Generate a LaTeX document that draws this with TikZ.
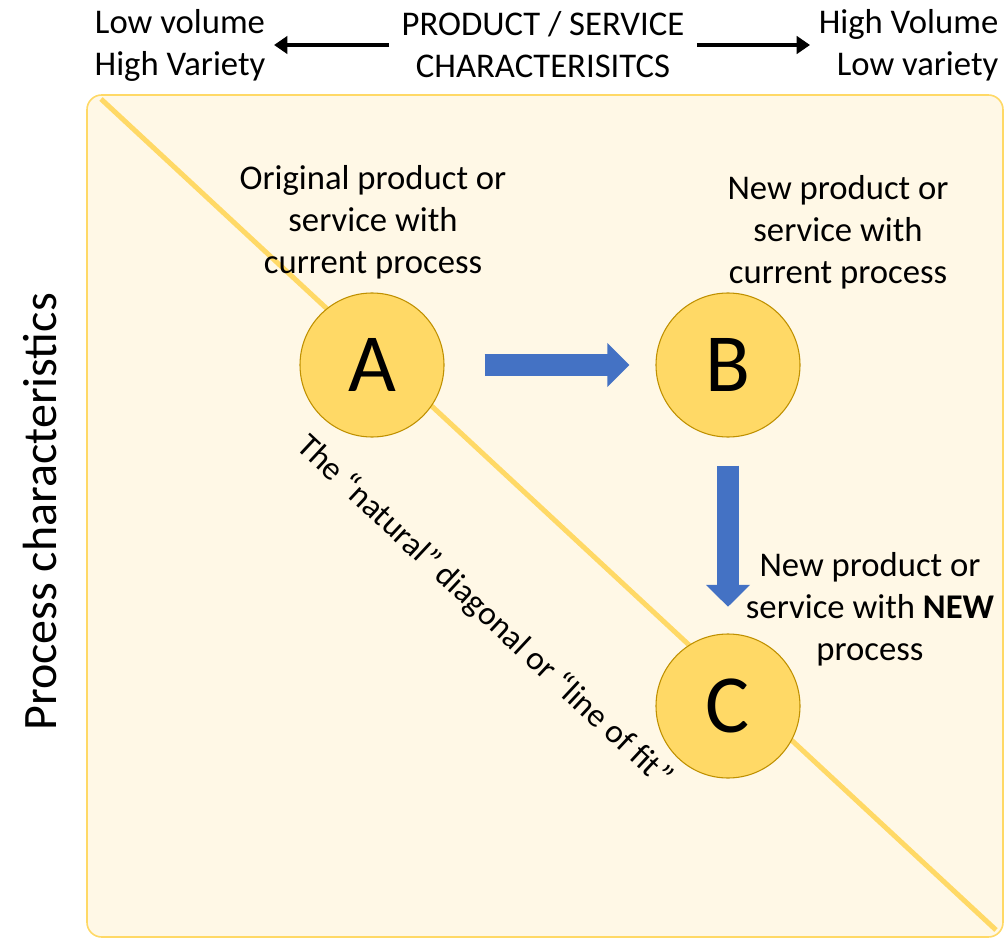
\documentclass[tikz,border=0pt]{standalone}
\usepackage{fontspec}
\setmainfont{Carlito}
\usetikzlibrary{arrows.meta}
\definecolor{boxfill}{HTML}{FFF8E6}
\definecolor{gold}{HTML}{FFD966}
\definecolor{darkgold}{HTML}{BF9000}
\definecolor{blockblue}{HTML}{4472C4}

\begin{document}
\begin{tikzpicture}[x=0.75pt,y=-0.75pt,
  lbl/.style={align=center,font=\fontsize{26}{31.5}\selectfont},
  ball/.style={circle,draw=darkgold,fill=gold,line width=0.8pt,minimum size=108pt,inner sep=0pt,font=\fontsize{62}{62}\selectfont},
  bigarrow/.style={blockblue,line width=16.5pt,-{Triangle[length=16.5pt,width=32pt]}},
  thinarrow/.style={line width=3.5pt,-{Triangle[length=10pt,width=13pt]}}]
\useasboundingbox (0,0) rectangle (1007,938);
\coordinate (TL) at (87,95);
\coordinate (BR) at (1003,937);
\coordinate (D1) at (101,99);
\coordinate (D2) at (996,930);
\draw[gold,fill=boxfill,line width=1.2pt,rounded corners=11pt] (TL) rectangle (BR);
\draw[gold,line width=3.75pt] (D1) -- (D2);
\node[lbl] (low) at (180,45) {Low volume\\High Variety};
\node[lbl] (prod) at (543,45) {PRODUCT / SERVICE\\CHARACTERISITCS};
\node[lbl,align=right,anchor=east] (high) at (1003,45) {High Volume\\Low variety};
\node[lbl,font=\fontsize{36}{36}\selectfont,rotate=90] (axis) at (40,512) {Process characteristics};
\node[ball] (A) at (372,365) {A};
\node[ball] (B) at (728,365) {B};
\node[ball] (C) at (728,706) {C};
\node[lbl] (la) at (373,222) {Original product or\\service with\\current process};
\node[lbl] (lb) at (838,232) {New product or\\service with\\current process};
\node[lbl] (lc) at (870,609) {New product or\\service with \textbf{NEW}\\process};
\node[font=\fontsize{25}{30}\selectfont,rotate=-43] (fit) at (484,612) {The “natural” diagonal or “line of fit”};
\draw[thinarrow,shorten <=6pt,shorten >=3pt] (prod.west) -- (low.east);
\draw[thinarrow,shorten <=6pt,shorten >=3pt] (prod.east) -- (high.west);
\draw[bigarrow,shorten <=30pt,shorten >=19.5pt] (A) -- (B);
\draw[bigarrow,shorten <=21pt,shorten >=20pt] (B) -- (C);
\end{tikzpicture}
\end{document}
